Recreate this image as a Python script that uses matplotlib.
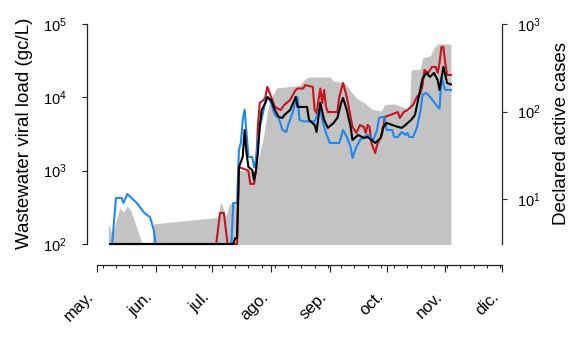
import matplotlib
matplotlib.use("Agg")
import matplotlib.pyplot as plt
import matplotlib.ticker as mticker
import pandas as pd

plt.rcParams['font.family'] = ['Liberation Sans', 'DejaVu Sans']
plt.rcParams['mathtext.fontset'] = 'custom'
plt.rcParams['mathtext.rm'] = 'Liberation Sans'
plt.rcParams['mathtext.it'] = 'Liberation Sans:italic'
plt.rcParams['mathtext.bf'] = 'Liberation Sans:bold'

# declared active cases (right axis, grey area)
cases_dates = ["2020-05-07", "2020-05-09", "2020-05-13", "2020-05-15", "2020-05-17", "2020-05-19",
               "2020-05-25", "2020-05-30", "2020-05-31", "2020-07-02", "2020-07-04", "2020-07-05",
               "2020-07-06", "2020-07-08", "2020-07-10", "2020-07-14", "2020-07-15", "2020-07-24",
               "2020-07-25", "2020-07-28", "2020-07-30", "2020-08-01", "2020-08-04", "2020-08-16",
               "2020-08-19", "2020-08-21", "2020-09-01", "2020-09-03", "2020-09-09", "2020-09-12",
               "2020-09-15", "2020-09-20", "2020-09-23", "2020-09-28", "2020-09-30", "2020-10-05",
               "2020-10-08", "2020-10-12", "2020-10-13", "2020-10-14", "2020-10-19", "2020-10-20",
               "2020-10-24", "2020-10-26", "2020-10-28", "2020-11-04"]
cases = [5.2, 3.9, 7.9, 7.1, 8.3, 7.3,
         3.0, 3.0, 5.2, 6.1, 6.1, 8.8,
         8.8, 6.3, 8.8, 8.8, 21, 21,
         27, 52, 101, 143, 186, 198,
         235, 248, 248, 223, 212, 171,
         143, 122, 107, 101, 119, 122,
         116, 107, 101, 298, 306, 409,
         430, 532, 591, 591]

# wastewater viral load (left axis), gc/L
red_dates = ["2020-05-08", "2020-07-03", "2020-07-05", "2020-07-07", "2020-07-09", "2020-07-14",
             "2020-07-15", "2020-07-20", "2020-07-21", "2020-07-23", "2020-07-24", "2020-07-25",
             "2020-07-26", "2020-07-28", "2020-07-29", "2020-07-30", "2020-08-01", "2020-08-03",
             "2020-08-06", "2020-08-08", "2020-08-11", "2020-08-14", "2020-08-15", "2020-08-18",
             "2020-08-19", "2020-08-23", "2020-08-24", "2020-08-25", "2020-08-27", "2020-08-28",
             "2020-08-29", "2020-08-30", "2020-08-31", "2020-09-05", "2020-09-06", "2020-09-08",
             "2020-09-10", "2020-09-12", "2020-09-13", "2020-09-15", "2020-09-17", "2020-09-19",
             "2020-09-20", "2020-09-21", "2020-09-22", "2020-09-23", "2020-09-25", "2020-09-26",
             "2020-09-29", "2020-09-30", "2020-10-03", "2020-10-07", "2020-10-08", "2020-10-10",
             "2020-10-12", "2020-10-15", "2020-10-17", "2020-10-19", "2020-10-20", "2020-10-21",
             "2020-10-23", "2020-10-25", "2020-10-27", "2020-10-28", "2020-10-29", "2020-10-30",
             "2020-10-31", "2020-11-01", "2020-11-02", "2020-11-04"]
red = [100, 100, 265, 265, 100, 100,
       1120, 1000, 660, 660, 1020, 4000,
       8400, 9200, 10100, 13900, 10100, 7400,
       6700, 7900, 9200, 12600, 13200, 13200,
       14700, 13900, 6700, 6100, 13200, 8400,
       12600, 7400, 6300, 6300, 10100, 15700,
       10100, 5400, 3950, 3270, 4200, 3950,
       3270, 4200, 3950, 2390, 1740, 2240,
       3370, 5400, 5750, 6300, 5240, 6300,
       6700, 7900, 10100, 11500, 14500, 23650,
       21500, 26000, 26000, 21500, 29400, 48700,
       48700, 29400, 20200, 20200]

blue_dates = ["2020-05-08", "2020-05-09", "2020-05-11", "2020-05-14", "2020-05-15", "2020-05-17",
              "2020-05-22", "2020-05-26", "2020-05-29", "2020-05-31", "2020-06-01", "2020-07-11",
              "2020-07-12", "2020-07-14", "2020-07-15", "2020-07-16", "2020-07-17", "2020-07-18",
              "2020-07-19", "2020-07-20", "2020-07-22", "2020-07-23", "2020-07-24", "2020-07-25",
              "2020-07-26", "2020-07-28", "2020-07-29", "2020-07-30", "2020-08-01", "2020-08-03",
              "2020-08-05", "2020-08-07", "2020-08-09", "2020-08-10", "2020-08-11", "2020-08-13",
              "2020-08-14", "2020-08-15", "2020-08-16", "2020-08-18", "2020-08-24", "2020-08-26",
              "2020-08-27", "2020-08-28", "2020-08-30", "2020-09-01", "2020-09-06", "2020-09-07",
              "2020-09-08", "2020-09-10", "2020-09-12", "2020-09-13", "2020-09-15", "2020-09-17",
              "2020-09-19", "2020-09-21", "2020-09-24", "2020-09-26", "2020-09-27", "2020-09-29",
              "2020-09-30", "2020-10-01", "2020-10-04", "2020-10-05", "2020-10-07", "2020-10-09",
              "2020-10-11", "2020-10-12", "2020-10-13", "2020-10-15", "2020-10-17", "2020-10-19",
              "2020-10-20", "2020-10-22", "2020-10-24", "2020-10-26", "2020-10-28", "2020-10-29",
              "2020-10-30", "2020-11-01", "2020-11-04"]
blue = [100, 100, 424, 424, 363, 481,
        363, 265, 233, 155, 100, 100,
        363, 363, 1920, 2390, 4920, 6800,
        3270, 1540, 1540, 1120, 1400, 2620,
        3950, 6700, 9200, 10100, 8400, 5750,
        5240, 3590, 3370, 4200, 4920, 7000,
        10000, 10000, 4920, 4700, 4700, 6300,
        7400, 4920, 3270, 2390, 2390, 2880,
        3590, 2880, 2100, 1490, 2100, 2620,
        2880, 3070, 2620, 3590, 5240, 5400,
        5240, 3590, 3590, 2880, 2880, 3370,
        3070, 3270, 2880, 2880, 3830, 6700,
        10800, 11500, 10100, 8700, 7400, 7000,
        18500, 12600, 12600]

black_dates = ["2020-05-08", "2020-07-12", "2020-07-13", "2020-07-14", "2020-07-15", "2020-07-17",
               "2020-07-18", "2020-07-19", "2020-07-20", "2020-07-22", "2020-07-23", "2020-07-24",
               "2020-07-25", "2020-07-26", "2020-07-27", "2020-07-29", "2020-07-30", "2020-08-01",
               "2020-08-03", "2020-08-05", "2020-08-07", "2020-08-08", "2020-08-11", "2020-08-14",
               "2020-08-15", "2020-08-20", "2020-08-21", "2020-08-24", "2020-08-25", "2020-08-27",
               "2020-08-29", "2020-08-31", "2020-09-03", "2020-09-05", "2020-09-07", "2020-09-08",
               "2020-09-10", "2020-09-12", "2020-09-13", "2020-09-16", "2020-09-19", "2020-09-21",
               "2020-09-23", "2020-09-25", "2020-09-28", "2020-09-29", "2020-10-01", "2020-10-04",
               "2020-10-07", "2020-10-09", "2020-10-11", "2020-10-14", "2020-10-16", "2020-10-18",
               "2020-10-20", "2020-10-22", "2020-10-24", "2020-10-26", "2020-10-28", "2020-10-29",
               "2020-10-31", "2020-11-02", "2020-11-04"]
black = [100, 100, 120, 120, 1120, 1540,
         3590, 1740, 1120, 1020, 750, 1020,
         1740, 3950, 6700, 8400, 10100, 9200,
         6700, 5400, 5240, 5750, 6700, 10100,
         7400, 7400, 4920, 4200, 3370, 8400,
         4920, 3830, 4480, 5240, 8400, 9800,
         6700, 3950, 2620, 3070, 2790, 2880,
         2620, 2390, 2790, 3830, 4480, 4200,
         3950, 3830, 4200, 4920, 5750, 10100,
         18000, 21500, 19000, 21500, 17300, 12600,
         26000, 15700, 15000]

month_ticks = ["2020-05-01", "2020-06-01", "2020-07-01", "2020-08-01",
               "2020-09-01", "2020-10-01", "2020-11-01", "2020-12-01"]
month_labels = ["may.", "jun.", "jul.", "ago.", "sep.", "oct.", "nov.", "dic."]

fig = plt.figure(figsize=(5.73, 3.4), dpi=100)
ax = fig.add_axes([87 / 573, 1 - 244 / 340, (502 - 87) / 573, 220 / 340])
ax2 = ax.twinx()
ax.set_zorder(ax2.get_zorder() + 1)
ax.patch.set_visible(False)

ax2.fill_between(pd.to_datetime(cases_dates), cases, 1, color='#c3c3c3', lw=0)
ax2.set_yscale('log')
ax2.set_ylim(3.06, 1000)

ax.plot(pd.to_datetime(red_dates), red, color='#c8141e', lw=1.5, clip_on=False)
ax.plot(pd.to_datetime(blue_dates), blue, color='#1e88f0', lw=1.5, clip_on=False)
ax.plot(pd.to_datetime(black_dates), black, color='black', lw=1.5, clip_on=False)
ax.set_yscale('log')
ax.set_ylim(100, 1e5)

mt = pd.to_datetime(month_ticks)
ax.set_xlim(mt[0] - pd.Timedelta(hours=127), mt[-1])
ax.xaxis.set_major_locator(mticker.FixedLocator(matplotlib.dates.date2num(mt)))
ax.xaxis.set_major_formatter(mticker.FixedFormatter(month_labels))
weeks = pd.date_range("2020-05-04", "2020-11-30", freq="7D")
ax.xaxis.set_minor_locator(mticker.FixedLocator(matplotlib.dates.date2num(weeks)))

ax.set_yticks([1e2, 1e3, 1e4, 1e5])
ax.yaxis.set_minor_locator(mticker.NullLocator())
ax2.set_yticks([10, 100, 1000])
ax2.yaxis.set_minor_locator(mticker.NullLocator())

col = '#222222'
for s in ['top', 'right']:
    ax.spines[s].set_visible(False)
for s in ['top', 'bottom', 'left']:
    ax2.spines[s].set_visible(False)
ax.spines['bottom'].set_position(('outward', 15))
ax.spines['bottom'].set_bounds(matplotlib.dates.date2num(mt[0]), matplotlib.dates.date2num(mt[-1]))
for sp in [ax.spines['bottom'], ax.spines['left'], ax2.spines['right']]:
    sp.set_color(col)
    sp.set_linewidth(0.9)

ax.tick_params(axis='y', length=3.6, width=0.8, color=col, labelsize=10.5, pad=11)
ax2.tick_params(axis='y', length=3.6, width=0.8, color=col, labelsize=10.5, pad=7)
ax.tick_params(axis='x', which='major', length=5, width=0.8, color=col, labelsize=12, pad=20)
ax.tick_params(axis='x', which='minor', length=2.2, width=0.8, color=col)
for lab in ax.get_xticklabels():
    lab.set_rotation(45)
    lab.set_ha('right')
    lab.set_va('bottom')
    lab.set_rotation_mode('anchor')

fig.text(25 / 573, 1 - 133 / 340, "Wastewater viral load (gc/L)", rotation=90,
         ha='center', va='center', fontsize=13.5)
fig.text(562 / 573, 1 - 134 / 340, "Declared active cases", rotation=90,
         ha='center', va='center', fontsize=13.5)

fig.savefig("out.png", dpi=100)
